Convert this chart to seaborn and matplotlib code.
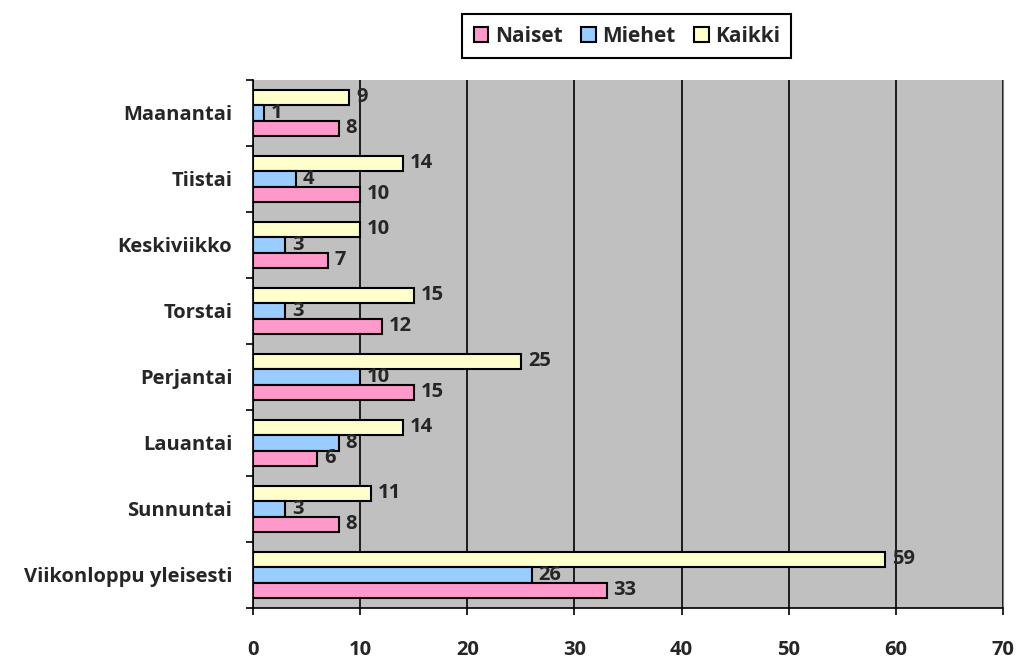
import pandas as pd
import seaborn as sns
import matplotlib.pyplot as plt
from matplotlib.ticker import FixedLocator

days = ["Maanantai", "Tiistai", "Keskiviikko", "Torstai", "Perjantai",
        "Lauantai", "Sunnuntai", "Viikonloppu yleisesti"]
naiset = [8, 10, 7, 12, 15, 6, 8, 33]
miehet = [1, 4, 3, 3, 10, 8, 3, 26]
kaikki = [9, 14, 10, 15, 25, 14, 11, 59]

series = ["Naiset", "Miehet", "Kaikki"]
colors = {"Naiset": "#FF99CC", "Miehet": "#99CCFF", "Kaikki": "#FFFFCC"}

df = pd.DataFrame({"Päivä": days * 3,
                   "Ryhmä": ["Naiset"] * 8 + ["Miehet"] * 8 + ["Kaikki"] * 8,
                   "Arvo": naiset + miehet + kaikki})

sns.set_style("white")
plt.rcParams["font.family"] = ["Open Sans", "DejaVu Sans"]
plt.rcParams["font.weight"] = "bold"

fig = plt.figure(figsize=(10.21, 6.6), dpi=100)
ax = fig.add_axes([0.2478, 0.079, 0.7346, 0.800])
ax.set_facecolor("#C0C0C0")

sns.barplot(data=df, y="Päivä", x="Arvo", hue="Ryhmä", order=days,
            hue_order=["Kaikki", "Miehet", "Naiset"], palette=colors,
            saturation=1, orient="h", width=0.7, edgecolor="black", linewidth=1.5,
            errorbar=None, ax=ax, zorder=3)

for cont in ax.containers:
    ax.bar_label(cont, padding=5, fontsize=14.5, fontweight="bold")

ax.set_xlim(0, 70)
ax.set_xticks(range(0, 71, 10))
ax.set_ylim(len(days) - 0.5, -0.5)
ax.grid(axis="x", color="black", linewidth=1.2, zorder=0)
ax.set_axisbelow(True)

ax.yaxis.set_minor_locator(FixedLocator([i - 0.5 for i in range(len(days) + 1)]))
ax.tick_params(axis="y", which="major", length=0, pad=15, labelsize=14.5)
ax.tick_params(axis="y", which="minor", length=5, width=1.2, color="black", direction="out", left=True)
ax.tick_params(axis="x", length=5, width=1.2, color="black", direction="out", bottom=True,
               pad=18, labelsize=14.5)
for lbl in ax.get_yticklabels() + ax.get_xticklabels():
    lbl.set_fontweight("bold")

for side in ["left", "bottom"]:
    ax.spines[side].set_color("black")
    ax.spines[side].set_linewidth(1.2)
ax.spines["right"].set_color("#808080")
ax.spines["top"].set_visible(False)

ax.set_xlabel("")
ax.set_ylabel("")

handles, labels = ax.get_legend_handles_labels()
hmap = dict(zip(labels, handles))
ax.legend([hmap[s] for s in series], series, loc="center", bbox_to_anchor=(0.614, 0.945),
          bbox_transform=fig.transFigure, ncol=3, frameon=True, fancybox=False,
          edgecolor="black", framealpha=1, handlelength=0.7, handleheight=0.7,
          handletextpad=0.3, columnspacing=0.9, borderpad=0.55,
          prop={"weight": "bold", "size": 15})
ax.get_legend().get_frame().set_linewidth(1.5)

fig.savefig("out.png", dpi=100)
